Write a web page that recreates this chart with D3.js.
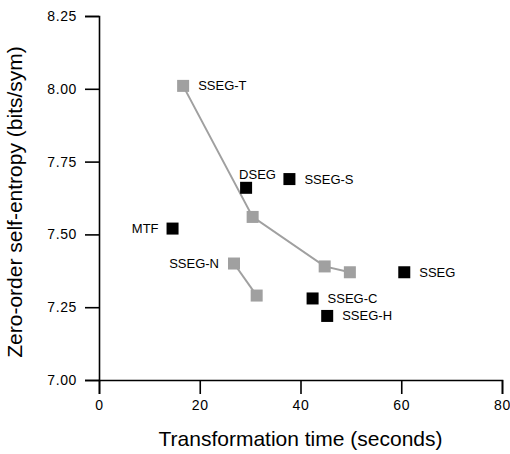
<!DOCTYPE html>
<html>
<head>
<meta charset="utf-8">
<script src="https://cdn.jsdelivr.net/npm/d3@7"></script>
<style>
  body { margin: 0; background: #fff; }
  svg text { font-family: "Liberation Sans", Arial, sans-serif; fill: #000; }
</style>
</head>
<body>
<svg id="chart"></svg>
<script>
var width = 510;
var height = 454;

// gray connected series (time in seconds, entropy in bits/sym)
var ssegTTime = [16.7, 30.5, 44.8, 49.8];
var ssegTEntropy = [8.01, 7.56, 7.39, 7.37];
var ssegNTime = [26.8, 31.3];
var ssegNEntropy = [7.40, 7.29];

// black single points
var pointNames = ["MTF", "DSEG", "SSEG-S", "SSEG", "SSEG-C", "SSEG-H"];
var pointTime = [14.6, 29.2, 37.8, 60.6, 42.4, 45.3];
var pointEntropy = [7.52, 7.66, 7.69, 7.37, 7.28, 7.22];

var xTicks = [0, 20, 40, 60, 80];
var yTicks = [7.00, 7.25, 7.50, 7.75, 8.00, 8.25];

var x = d3.scaleLinear().domain([0, 80]).range([99, 502]);
var y = d3.scaleLinear().domain([7, 8.25]).range([380, 16]);

var svg = d3.select('#chart')
    .attr('width', width)
    .attr('height', height);

//AXES
var xAxis = svg.append('g')
    .attr('transform', 'translate(0,' + y(7) + ')')
    .call(d3.axisBottom(x).tickValues(xTicks).tickSize(14).tickPadding(6));
var yAxis = svg.append('g')
    .attr('transform', 'translate(' + x(0) + ',0)')
    .call(d3.axisLeft(y).tickValues(yTicks).tickSize(14).tickPadding(8)
        .tickFormat(d3.format('.2f')));

[xAxis, yAxis].forEach(function(a) {
    a.selectAll('path, line').attr('stroke', '#000').attr('stroke-width', 1.6);
    a.selectAll('text').style('font-size', '14px')
        .style('letter-spacing', '0.6px')
        .style('font-family', '"Liberation Sans", Arial, sans-serif');
});

svg.append('text')
    .attr('x', (x(0) + x(80)) / 2)
    .attr('y', 446)
    .attr('text-anchor', 'middle')
    .style('font-size', '21px')
    .text('Transformation time (seconds)');

svg.append('text')
    .attr('transform', 'translate(22,' + ((y(7) + y(8.25)) / 2 + 4) + ') rotate(-90)')
    .attr('text-anchor', 'middle')
    .style('font-size', '21px')
    .text('Zero-order self-entropy (bits/sym)');

//GRAY LINES
var line = d3.line().x(d => x(d[0])).y(d => y(d[1]));
var grayColor = '#a0a0a0';
var graySeries = [
    { name: 'SSEG-T', pts: d3.zip(ssegTTime, ssegTEntropy), side: 'right' },
    { name: 'SSEG-N', pts: d3.zip(ssegNTime, ssegNEntropy), side: 'left' }
];

graySeries.forEach(function(s) {
    svg.append('path')
        .attr('d', line(s.pts))
        .attr('fill', 'none')
        .attr('stroke', grayColor)
        .attr('stroke-width', 2);
    svg.selectAll(null)
        .data(s.pts)
        .enter()
        .append('rect')
        .attr('x', d => x(d[0]) - 6)
        .attr('y', d => y(d[1]) - 6)
        .attr('width', 12)
        .attr('height', 12)
        .attr('fill', grayColor);
    var first = s.pts[0];
    svg.append('text')
        .attr('x', x(first[0]) + (s.side === 'right' ? 15 : -15))
        .attr('y', y(first[1]))
        .attr('dy', '0.35em')
        .attr('text-anchor', s.side === 'right' ? 'start' : 'end')
        .style('font-size', '13px')
        .text(s.name);
});

//BLACK POINTS
var points = pointNames.map(function(n, i) {
    return { name: n, t: pointTime[i], e: pointEntropy[i] };
});

svg.selectAll('.pt')
    .data(points)
    .enter()
    .append('rect')
    .classed('pt', true)
    .attr('x', d => x(d.t) - 6)
    .attr('y', d => y(d.e) - 6)
    .attr('width', 12)
    .attr('height', 12)
    .attr('fill', '#000');

svg.selectAll('.ptlabel')
    .data(points)
    .enter()
    .append('text')
    .classed('ptlabel', true)
    .attr('x', function(d) {
        if (d.name === 'MTF') return x(d.t) - 14;
        if (d.name === 'DSEG') return x(d.t) - 7;
        return x(d.t) + 15;
    })
    .attr('y', d => d.name === 'DSEG' ? y(d.e) - 13 : y(d.e))
    .attr('dy', '0.35em')
    .attr('text-anchor', d => d.name === 'MTF' ? 'end' : 'start')
    .style('font-size', '13px')
    .text(d => d.name);
</script>
</body>
</html>
